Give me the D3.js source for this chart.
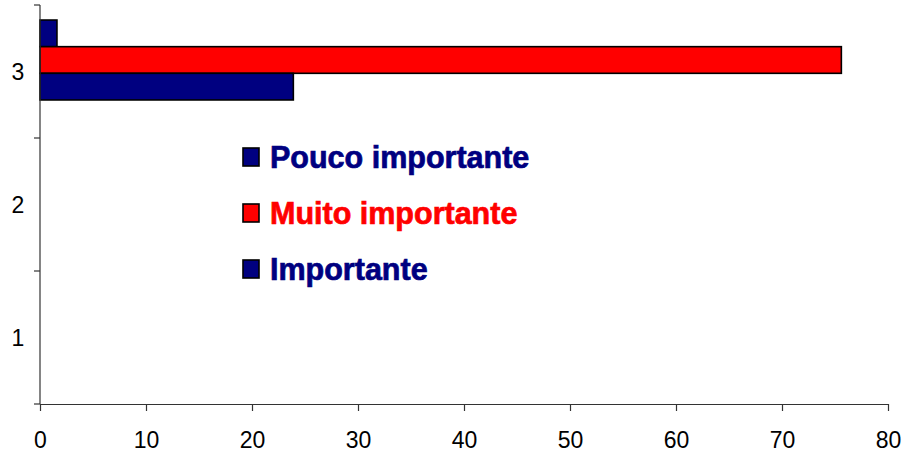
<!DOCTYPE html>
<html><head><meta charset="utf-8">
<script src="https://cdn.jsdelivr.net/npm/d3@7"></script>
<style>body{margin:0;background:#fff}svg{display:block}</style>
</head><body>
<svg id="c" width="905" height="460"></svg>
<script>
const categories = ["1", "2", "3"];
const seriesNames = ["Pouco importante", "Muito importante", "Importante"];
const seriesColors = ["#000080", "#FF0000", "#000080"];
const pouco = [0, 0, 1.6];
const muito = [0, 0, 75.6];
const importante = [0, 0, 23.9];
const xTicks = [0, 10, 20, 30, 40, 50, 60, 70, 80];

const seriesValues = [pouco, muito, importante];
const svg = d3.select("#c");
const font = "Liberation Sans, Arial, sans-serif";

const x = d3.scaleLinear().domain([0, 80]).range([40, 888]);
const y0 = d3.scaleBand().domain(categories.slice().reverse()).range([5, 404]).padding(0);
const bw = y0.bandwidth();
const y1 = d3.scaleBand().domain(seriesNames).range([bw * 0.113, bw * 0.714]).padding(0);

// bars
categories.forEach((cat, ci) => {
  seriesNames.forEach((s, si) => {
    const v = seriesValues[si][ci];
    if (v <= 0) return;
    svg.append("rect")
      .attr("x", x(0))
      .attr("y", y0(cat) + y1(s))
      .attr("width", x(v) - x(0))
      .attr("height", y1.bandwidth())
      .attr("fill", seriesColors[si])
      .attr("stroke", "#000")
      .attr("stroke-width", 1.6);
  });
});

// x axis
const xAxis = d3.axisBottom(x).tickValues(xTicks).tickSize(7).tickPadding(21).tickSizeOuter(0);
const gx = svg.append("g").attr("transform", "translate(0,404)").call(xAxis);
gx.select(".domain").attr("stroke", "#333").attr("stroke-width", 1.2);
gx.selectAll(".tick line").attr("stroke", "#333").attr("stroke-width", 1.2);
gx.selectAll(".tick text").attr("font-family", font).attr("font-size", 23).attr("fill", "#000");

// y axis
const gy = svg.append("g").attr("transform", "translate(40,0)");
gy.append("line").attr("x1", 0).attr("x2", 0).attr("y1", 5).attr("y2", 404)
  .attr("stroke", "#333").attr("stroke-width", 1.2);
const bounds = categories.map(c => y0(c)).concat([404]);
gy.selectAll("line.t").data(bounds).enter().append("line").attr("class", "t")
  .attr("x1", -6).attr("x2", 0).attr("y1", d => d).attr("y2", d => d)
  .attr("stroke", "#333").attr("stroke-width", 1.2);
gy.selectAll("text").data(categories).enter().append("text")
  .attr("x", -22).attr("y", d => y0(d) + bw / 2)
  .attr("dy", "0.35em").attr("text-anchor", "middle")
  .attr("font-family", font).attr("font-size", 23).attr("fill", "#000")
  .text(d => d);

// legend
const lg = svg.append("g");
seriesNames.forEach((s, i) => {
  const cy = 157 + i * 56;
  lg.append("rect").attr("x", 243).attr("y", cy - 9).attr("width", 16).attr("height", 18)
    .attr("fill", seriesColors[i]).attr("stroke", "#000").attr("stroke-width", 1.6);
  lg.append("text").attr("x", 270).attr("y", cy + 11)
    .attr("font-family", font).attr("font-weight", "bold").attr("font-size", 30.5)
    .attr("fill", seriesColors[i]).attr("stroke", seriesColors[i]).attr("stroke-width", 0.7)
    .text(s);
});
</script>
</body></html>
